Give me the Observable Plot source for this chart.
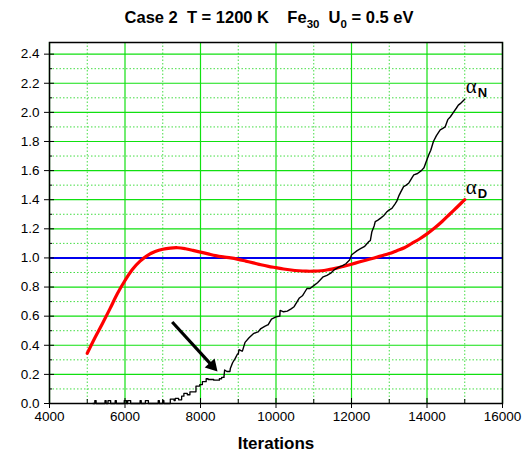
<!DOCTYPE html>
<html><head><meta charset="utf-8">
<script src="https://cdn.jsdelivr.net/npm/d3@7"></script>
<script src="https://cdn.jsdelivr.net/npm/@observablehq/plot@0.6"></script>
<style>body{margin:0;background:#fff} svg{display:block}</style>
</head><body><div id="chart"></div>
<script>
const xMajor = [4000, 6000, 8000, 10000, 12000, 14000, 16000];
const xMinor = [5000, 7000, 9000, 11000, 13000, 15000];
const yMajor = [0, 0.2, 0.4, 0.6, 0.8, 1.0, 1.2, 1.4, 1.6, 1.8, 2.0, 2.2, 2.4];
const yMinor = [0.1, 0.3, 0.5, 0.7, 0.9, 1.1, 1.3, 1.5, 1.7, 1.9, 2.1, 2.3];
const refLevel = [1.0];

// alpha_D (red)
const iterD = [5000,5200,5400,5600,5800,6000,6200,6400,6600,6800,7000,7200,7400,7600,7800,8000,8200,8400,8600,8800,9000,9200,9400,9600,9800,10000,10200,10400,10600,10800,11000,11200,11400,11600,11800,12000,12200,12400,12600,12800,13000,13200,13400,13600,13800,14000,14200,14400,14600,14800,15000];
const alphaD = [0.345,0.45,0.548,0.65,0.755,0.845,0.922,0.978,1.018,1.044,1.06,1.068,1.07,1.063,1.052,1.04,1.028,1.016,1.007,1.0,0.99,0.978,0.966,0.953,0.942,0.933,0.924,0.917,0.912,0.909,0.909,0.912,0.92,0.93,0.943,0.957,0.972,0.986,1.0,1.015,1.03,1.05,1.07,1.1,1.13,1.165,1.205,1.25,1.3,1.35,1.4];

// alpha_N (black): staircase part, then noisy climbing part
const iterN = [5150,5200,5235,5470,5500,5550,5620,5740,5770,5980,6040,6070,6150,6400,6430,6540,6620,6880,6910,7000,7030,7200,7300,7330,7420,7500,7560,7650,7720,7860,7880,7980,8050,8150,8200,8350,8500,8560,8620,8640,8700,8780,8790,8850,8920,8980,9000,9020,9100,9110,9180,9280,9300,9400,9500,9520,9600,9700,9780,9790,9880,10000,10100,10110,10200,10300,10400,10480,10560,10620,10700,10820,10900,11000,11100,11250,11350,11450,11550,11650,11750,11850,11950,12000,12050,12150,12250,12350,12450,12500,12540,12600,12630,12700,12780,12850,12930,13000,13070,13150,13200,13260,13300,13380,13450,13520,13600,13650,13750,13850,13920,13990,14050,14100,14170,14250,14350,14420,14480,14550,14620,14700,14780,14830,14880,14920,14960,15000];
const alphaN = [0,0.02,0,0.02,0,0.02,0,0.02,0,0.02,0,0.02,0,0.02,0,0.02,0,0.02,0,0.02,0,0.03,0.02,0.035,0.025,0.05,0.07,0.06,0.08,0.08,0.12,0.13,0.15,0.17,0.165,0.16,0.17,0.18,0.18,0.23,0.22,0.22,0.24,0.28,0.31,0.34,0.34,0.37,0.36,0.36,0.42,0.45,0.455,0.48,0.49,0.49,0.515,0.53,0.54,0.54,0.58,0.595,0.6,0.64,0.63,0.635,0.65,0.665,0.7,0.725,0.74,0.79,0.79,0.81,0.83,0.87,0.88,0.895,0.92,0.935,0.945,0.96,0.985,1.02,1.03,1.05,1.065,1.08,1.11,1.12,1.18,1.22,1.25,1.26,1.275,1.29,1.315,1.33,1.34,1.37,1.39,1.43,1.45,1.49,1.5,1.515,1.55,1.57,1.58,1.6,1.62,1.67,1.71,1.74,1.8,1.84,1.88,1.89,1.9,1.95,1.97,2.0,2.03,2.05,2.06,2.07,2.08,2.09];
const stepUntil = 8620; // staircase drawing up to this iteration

const labelX = [15000, 15000];
const labelY = [2.178, 1.484];
const labelMain = ["α", "α"];
const labelSub = ["N", "D"];

const arrowIter = [7250, 8430];
const arrowAlpha = [0.56, 0.225];

const seriesD = iterD.map((x, i) => ({x, y: alphaD[i]}));
const seriesN = iterN.map((x, i) => ({x, y: alphaN[i]}));
const seriesNlow = seriesN.filter(d => d.x <= stepUntil);
const seriesNhigh = seriesN.filter(d => d.x >= stepUntil);
const labels = labelX.map((x, i) => ({x, y: labelY[i], main: labelMain[i], sub: labelSub[i]}));

// arrow: shaft and a filled triangular head near the tip
const along = t => ({x: arrowIter[0] + t * (arrowIter[1] - arrowIter[0]), y: arrowAlpha[0] + t * (arrowAlpha[1] - arrowAlpha[0])});
const shaft = [{a: along(0), b: along(0.86)}];
const head = [along(0.9)];

const W = 532, H = 458, mL = 49, mR = 30, mT = 42, mB = 55;
const pw = W - mL - mR, ph = H - mT - mB;
const sans = "Liberation Sans, Arial, Helvetica, sans-serif";

// screen angle of the arrow (degrees clockwise from up)
const pxPerX = pw / 12000, pxPerY = ph / 2.48;
const adx = (arrowIter[1] - arrowIter[0]) * pxPerX, ady = -(arrowAlpha[1] - arrowAlpha[0]) * pxPerY;
const headAngle = Math.atan2(adx, -ady) * 180 / Math.PI;

const chart = Plot.plot({
  width: W, height: H,
  marginLeft: mL, marginRight: mR, marginTop: mT, marginBottom: mB,
  style: {fontFamily: sans, fontSize: "13.5px", background: "#fff", color: "#000"},
  x: {domain: [4000, 16000], label: null},
  y: {domain: [0, 2.48], label: null},
  marks: [
    Plot.ruleX(xMinor, {stroke: "#44dd44", strokeDasharray: "1.5,2", strokeWidth: 1}),
    Plot.ruleY(yMinor, {stroke: "#44dd44", strokeDasharray: "1.5,2", strokeWidth: 1}),
    Plot.ruleX(xMajor, {stroke: "#11e011", strokeWidth: 1.2}),
    Plot.ruleY(yMajor, {stroke: "#11e011", strokeWidth: 1.2}),
    Plot.ruleY(refLevel, {stroke: "#0000ee", strokeWidth: 2}),
    Plot.line(seriesD, {x: "x", y: "y", curve: "catmull-rom", stroke: "#ff0000", strokeWidth: 3.2}),
    Plot.line(seriesNlow, {x: "x", y: "y", curve: "step-after", stroke: "#000", strokeWidth: 1.3}),
    Plot.line(seriesNhigh, {x: "x", y: "y", curve: "linear", stroke: "#000", strokeWidth: 1.4}),
    Plot.link(shaft, {x1: d => d.a.x, y1: d => d.a.y, x2: d => d.b.x, y2: d => d.b.y, stroke: "#000", strokeWidth: 3.2}),
    Plot.dot(head, {x: "x", y: "y", symbol: "triangle", r: 5, fill: "#000", stroke: "none", rotate: headAngle}),
    Plot.text(labels, {x: "x", y: "y", text: "main", textAnchor: "start", dx: 1, fontFamily: "Liberation Serif, Times New Roman, serif", fontSize: 21}),
    Plot.text(labels, {x: "x", y: "y", text: "sub", textAnchor: "start", dx: 13, dy: 6, fontFamily: sans, fontWeight: "bold", fontSize: 13}),
    Plot.tickY(yMajor, {y: d => d, insetRight: pw - 5, stroke: "#000"}),
    Plot.tickY(yMinor, {y: d => d, insetRight: pw - 3, stroke: "#000"}),
    Plot.tickX(xMajor, {x: d => d, insetTop: ph - 5, stroke: "#000"}),
    Plot.tickX(xMinor, {x: d => d, insetTop: ph - 4, stroke: "#000"}),
    Plot.axisX(xMajor, {tickSize: 5, tickPadding: 3, tickFormat: d3.format("d"), fontSize: 13.5, label: null}),
    Plot.axisY(yMajor, {tickSize: 5, tickPadding: 5, tickFormat: d3.format(".1f"), fontSize: 13.5, label: null}),
    Plot.frame({stroke: "#000", strokeWidth: 1.5}),
    Plot.text(["Iterations"], {frameAnchor: "bottom", dy: 45, fontWeight: "bold", fontSize: 17, fontFamily: sans})
  ]
});

const svg = d3.select(chart);
const t = svg.append("text")
  .attr("x", 269).attr("y", 23)
  .attr("text-anchor", "middle")
  .attr("font-family", sans).attr("font-weight", "bold").attr("font-size", 16.5)
  .attr("fill", "#000")
  .style("white-space", "pre");
t.append("tspan").text("Case 2  T = 1200 K    Fe");
t.append("tspan").attr("font-size", 11.5).attr("dy", 5).text("30");
t.append("tspan").attr("dy", -5).text("  U");
t.append("tspan").attr("font-size", 11.5).attr("dy", 5).text("0");
t.append("tspan").attr("dy", -5).text(" = 0.5 eV");

document.getElementById("chart").appendChild(chart);
</script>
</body></html>
